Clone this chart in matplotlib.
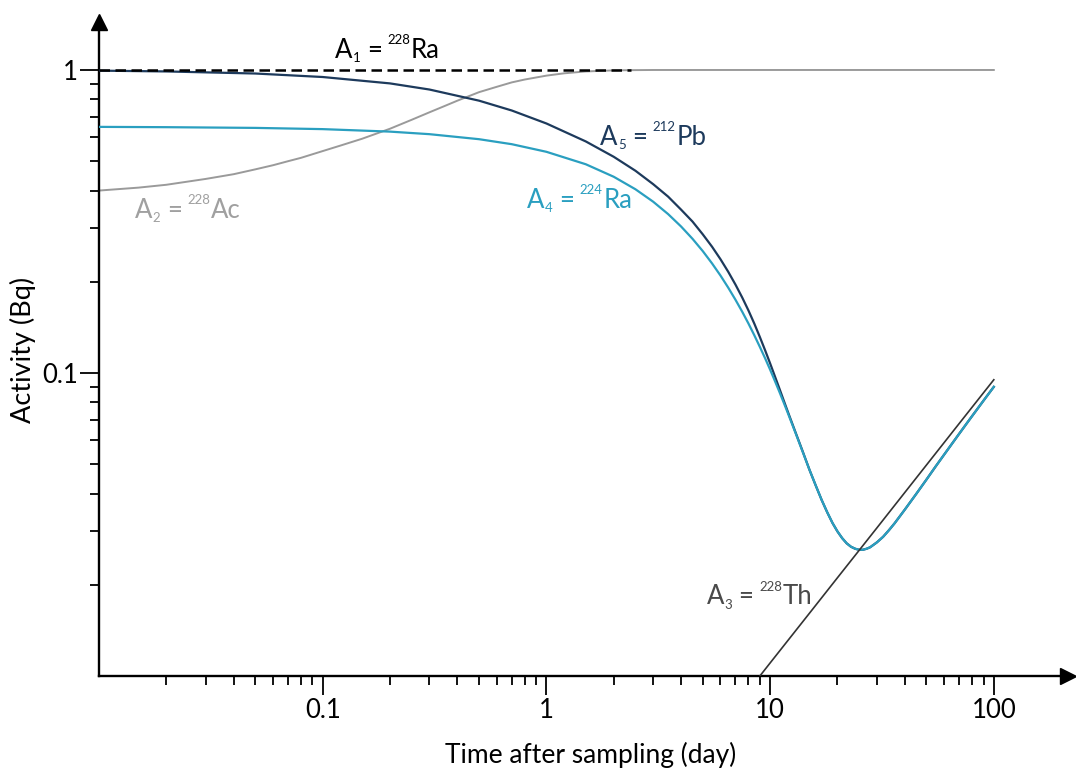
import matplotlib
matplotlib.use("Agg")
import matplotlib.pyplot as plt
from matplotlib.ticker import FixedLocator, NullFormatter

# ---------------- data ----------------
t_chain = [0.01, 0.02, 0.05, 0.1, 0.2, 0.3, 0.5, 0.7, 1, 1.5,
           2, 2.5, 3, 3.5, 4, 4.5, 5, 5.5, 6, 6.5,
           7, 7.5, 8, 8.5, 9, 9.5, 10, 10.5, 11, 11.5,
           12, 13, 14, 15, 16, 17, 18, 19, 20, 21,
           22, 23, 24, 25, 26, 27, 28, 30, 32, 34,
           36, 40, 45, 50, 55, 60, 65, 70, 78, 85,
           92, 100]
a4_ra224 = [0.649, 0.6475, 0.644, 0.638, 0.626, 0.614, 0.591, 0.569, 0.537, 0.4885,
            0.4442, 0.4040, 0.3676, 0.3345, 0.3044, 0.2772, 0.2525, 0.2300, 0.2097, 0.1912,
            0.1745, 0.1594, 0.1457, 0.1332, 0.1219, 0.1118, 0.1026, 0.0942, 0.0867, 0.0799,
            0.0738, 0.0633, 0.0548, 0.0479, 0.0425, 0.0381, 0.0347, 0.0320, 0.0300, 0.0285,
            0.0274, 0.0267, 0.0263, 0.0261, 0.0261, 0.0263, 0.0266, 0.0276, 0.0288, 0.0303,
            0.0319, 0.0354, 0.0399, 0.0445, 0.0492, 0.0538, 0.0584, 0.0630, 0.0703, 0.0766,
            0.0829, 0.0900]
a5_pb212 = [0.995, 0.989, 0.9735, 0.948, 0.903, 0.862, 0.792, 0.735, 0.666, 0.581,
            0.517, 0.465, 0.420, 0.382, 0.346, 0.316, 0.2868, 0.2611, 0.2374, 0.2157,
            0.1958, 0.1776, 0.1609, 0.1455, 0.1314, 0.1188, 0.1076, 0.0976, 0.0889, 0.0812,
            0.0745, 0.0636, 0.0550, 0.0479, 0.0425, 0.0381, 0.0347, 0.0320, 0.0300, 0.0285,
            0.0274, 0.0267, 0.0263, 0.0261, 0.0261, 0.0263, 0.0266, 0.0276, 0.0288, 0.0303,
            0.0319, 0.0354, 0.0399, 0.0445, 0.0492, 0.0538, 0.0584, 0.0630, 0.0703, 0.0766,
            0.0829, 0.0900]
t_ac = [0.01, 0.015, 0.02, 0.03, 0.04, 0.05, 0.06, 0.07, 0.08, 0.1,
        0.12, 0.15, 0.2, 0.25, 0.3, 0.35, 0.4, 0.5, 0.6, 0.7,
        0.8, 1, 1.2, 1.5, 2, 2.5, 3, 10, 100]
a2_ac228 = [0.400, 0.409, 0.418, 0.437, 0.453, 0.470, 0.485, 0.500, 0.513, 0.540,
            0.563, 0.593, 0.640, 0.685, 0.725, 0.760, 0.792, 0.845, 0.880, 0.910,
            0.930, 0.958, 0.975, 0.989, 0.997, 0.999, 1.0, 1.0, 1.0]
t_th = [8.5, 9, 10, 15, 20, 30, 50, 70, 100]
a3_th228 = [0.00948, 0.0100, 0.01104, 0.01612, 0.0211, 0.0308, 0.0497, 0.0681, 0.0950]
t_ra = [0.01, 2.4]
a1_ra228 = [1.0, 1.0]

x_ticks = [0.1, 1, 10, 100]
x_ticklabels = ["0.1", "1", "10", "100"]
x_minor = [0.02, 0.03, 0.04, 0.05, 0.06, 0.07, 0.08, 0.09,
           0.2, 0.3, 0.4, 0.5, 0.6, 0.7, 0.8, 0.9,
           2, 3, 4, 5, 6, 7, 8, 9,
           20, 30, 40, 50, 60, 70, 80, 90]
y_ticks = [0.1, 1]
y_ticklabels = ["0.1", "1"]
y_minor = [0.02, 0.03, 0.04, 0.05, 0.06, 0.07, 0.08, 0.09,
           0.2, 0.3, 0.4, 0.5, 0.6, 0.7, 0.8, 0.9]

# label pieces: (symbol, subscript, mass number, element)
label_parts = {
    "A1": ("A", "1", "228", "Ra"),
    "A2": ("A", "2", "228", "Ac"),
    "A3": ("A", "3", "228", "Th"),
    "A4": ("A", "4", "224", "Ra"),
    "A5": ("A", "5", "212", "Pb"),
}

# ---------------- style ----------------
FONT = "Lato"
plt.rcParams["font.family"] = [FONT, "DejaVu Sans"]

NAVY = "#1d3a5c"
TEAL = "#2a9fc0"
GRAY = "#9a9a9a"
DARK = "#333333"

fig = plt.figure(figsize=(10.76, 7.69), dpi=100)
ax = fig.add_axes([99 / 1076, (769 - 676) / 769, (1068 - 99) / 1076, (676 - 22) / 769])
ax.set_xscale("log")
ax.set_yscale("log")
ax.set_xlim(0.01, 214.6)
ax.set_ylim(0.01, 1.44)

ax.plot(t_chain, a5_pb212, color=NAVY, lw=1.6, zorder=3)
ax.plot(t_chain, a4_ra224, color=TEAL, lw=1.6, zorder=4)
ax.plot(t_ac, a2_ac228, color=GRAY, lw=1.4, zorder=2)
ax.plot(t_th, a3_th228, color=DARK, lw=1.2, zorder=5)
ln, = ax.plot(t_ra, a1_ra228, color="black", lw=1.8, zorder=6)
ln.set_dashes((4.2, 2.2))

# spines & arrows
for s in ("top", "right"):
    ax.spines[s].set_visible(False)
for s in ("left", "bottom"):
    ax.spines[s].set_linewidth(1.7)
    ax.spines[s].set_color("black")
ax.plot(1, 0, marker=">", color="black", markersize=12, transform=ax.transAxes,
        clip_on=False, zorder=10)
ax.plot(0, 1, marker="^", color="black", markersize=12, transform=ax.transAxes,
        clip_on=False, zorder=10)

# ticks
ax.xaxis.set_major_locator(FixedLocator(x_ticks))
ax.set_xticklabels(x_ticklabels)
ax.xaxis.set_minor_locator(FixedLocator(x_minor))
ax.xaxis.set_minor_formatter(NullFormatter())
ax.yaxis.set_major_locator(FixedLocator(y_ticks))
ax.set_yticklabels(y_ticklabels)
ax.yaxis.set_minor_locator(FixedLocator(y_minor))
ax.yaxis.set_minor_formatter(NullFormatter())
ax.tick_params(which="major", length=13.5, width=1.3, labelsize=18.5, color="black")
ax.tick_params(which="minor", length=6.5, width=1.3, color="black")
ax.tick_params(axis="x", which="major", pad=2)
ax.tick_params(axis="y", which="major", pad=1.5)

# axis titles
fig.text(591 / 1076, (769 - 763) / 769, "Time after sampling (day)", ha="center",
         va="baseline", fontsize=19)
fig.text(23 / 1076, 1 - 350 / 769, "Activity (Bq)", ha="center", va="center",
         rotation=90, fontsize=19.5)


def nuclide_label(x, y, parts, color, fs=18.5, fs_small=9.5):
    """Draw 'A_n = ^mass El' with small sub/superscripts, baseline at data (x, y)."""
    sym, sub, mass, el = parts
    pieces = [(sym, fs, 0, 0), (sub, fs_small, 0.3, -3.2), ("=", fs, 4.5, 0),
              (mass, fs_small, 4.5, 10.0), (el, fs, 0.2, 0)]
    prev = None
    for txt, size, dx, dy in pieces:
        if prev is None:
            a = ax.annotate(txt, xy=(x, y), xycoords="data", xytext=(dx, dy),
                            textcoords="offset points", ha="left", va="baseline",
                            fontsize=size, color=color, zorder=7)
        else:
            a = ax.annotate(txt, xy=(1, y), xycoords=(prev, "data"), xytext=(dx, dy),
                            textcoords="offset points", ha="left", va="baseline",
                            fontsize=size, color=color, zorder=7)
        prev = a


nuclide_label(0.1135, 1.095, label_parts["A1"], "black")
nuclide_label(0.01449, 0.3248, label_parts["A2"], "#a0a0a0")
nuclide_label(5.20, 0.01722, label_parts["A3"], "#4a4a4a")
nuclide_label(0.819, 0.3508, label_parts["A4"], TEAL)
nuclide_label(1.736, 0.566, label_parts["A5"], NAVY)

fig.savefig("out.png", dpi=100)
